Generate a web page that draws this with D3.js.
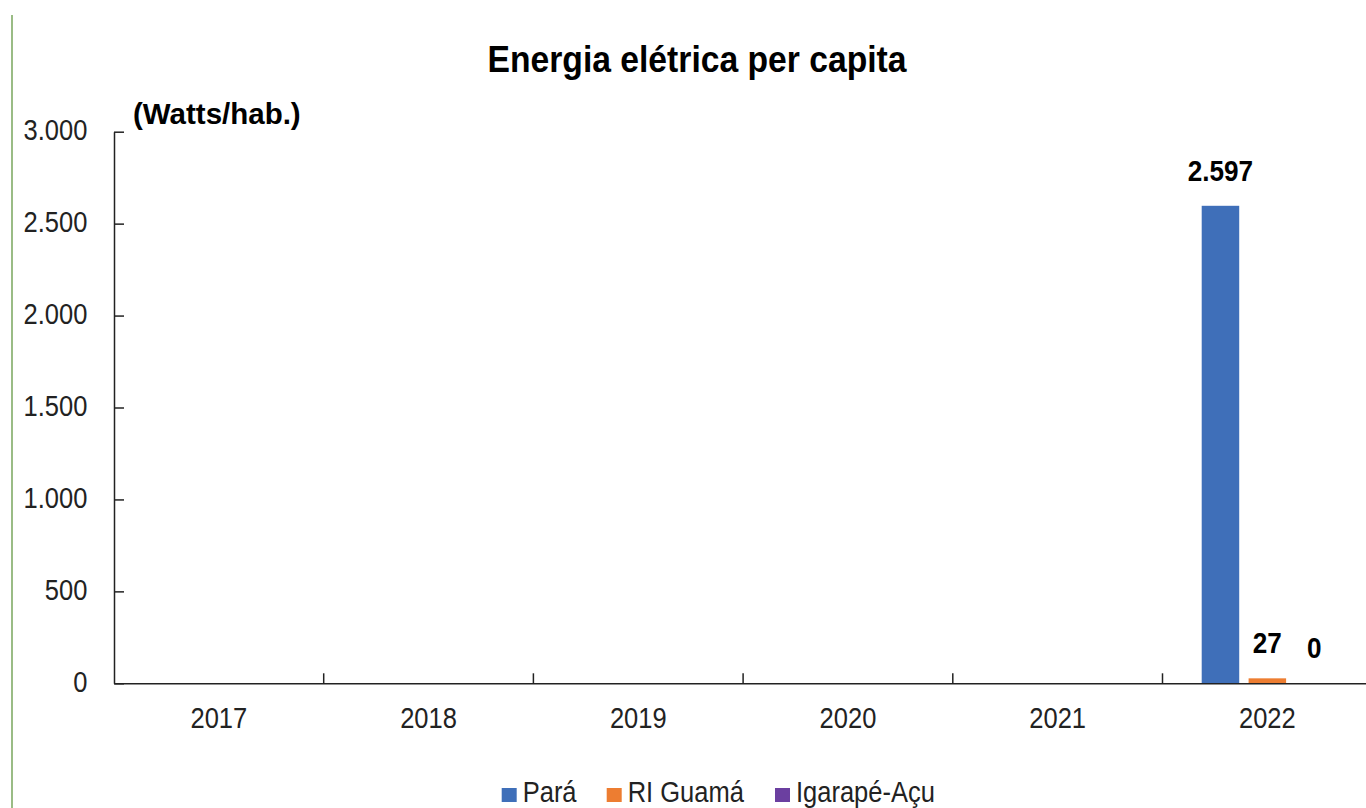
<!DOCTYPE html>
<html>
<head>
<meta charset="utf-8">
<script src="https://cdn.jsdelivr.net/npm/d3@7"></script>
<style>
  html, body { margin: 0; padding: 0; background: #fff; }
  svg { display: block; font-family: "Liberation Sans", Arial, sans-serif; }
</style>
</head>
<body>
<script>
const years = ["2017", "2018", "2019", "2020", "2021", "2022"];
const series = ["Pará", "RI Guamá", "Igarapé-Açu"];
const colors = ["#3f6fb9", "#ed7d31", "#6b3fa0"];
// Watts/hab. per year and series (null = no data)
const para = [null, null, null, null, null, 2597];
const riGuama = [null, null, null, null, null, 27];
const igarapeAcu = [null, null, null, null, null, 0];
const yTicks = [0, 500, 1000, 1500, 2000, 2500, 3000];

const width = 1366, height = 808;
const margin = ({top: 131.7, right: 0, bottom: 124.7, left: 114});
const step = 209.7;
const narrow = 0.85; // the reference uses a condensed face

const locale = d3.formatLocale({decimal: ",", thousands: ".", grouping: [3], currency: ["R$", ""]});
const fmt = locale.format(",d");

const values = [para, riGuama, igarapeAcu];
const data = years.map((yr, i) => ({year: yr, vals: series.map((s, j) => ({key: s, idx: j, value: values[j][i]}))}));

const svg = d3.select("body").append("svg")
    .attr("width", width)
    .attr("height", height);

// green border line at the left
svg.append("line")
    .attr("x1", 12).attr("x2", 12)
    .attr("y1", 15).attr("y2", height)
    .attr("stroke", "#79a65c")
    .attr("stroke-width", 1.5);

const x0 = d3.scaleBand()
    .domain(years)
    .range([margin.left, margin.left + step * years.length]);

const x1 = d3.scaleBand()
    .domain(series)
    .range([39.2, x0.bandwidth() - 39.2])
    .paddingInner(0.2);

const y = d3.scaleLinear()
    .domain([0, 3000])
    .range([height - margin.bottom, margin.top]);

// title
svg.append("text")
    .attr("transform", `translate(697,71.7) scale(0.91,1)`)
    .attr("text-anchor", "middle")
    .style("font-weight", "bold")
    .style("font-size", "37px")
    .attr("fill", "#000")
    .text("Energia elétrica per capita");

// unit label
svg.append("text")
    .attr("x", 133)
    .attr("y", 124)
    .style("font-weight", "bold")
    .style("font-size", "29.5px")
    .attr("fill", "#000")
    .text("(Watts/hab.)");

// bars
const groups = svg.append("g")
  .selectAll("g")
  .data(data)
  .join("g")
    .attr("transform", d => `translate(${x0(d.year)},0)`);

groups.selectAll("rect")
  .data(d => d.vals.filter(v => v.value != null))
  .join("rect")
    .attr("x", d => x1(d.key))
    .attr("width", x1.bandwidth())
    .attr("y", d => y(d.value))
    .attr("height", d => y(0) - y(d.value))
    .attr("fill", d => colors[d.idx]);

groups.selectAll("text")
  .data(d => d.vals.filter(v => v.value != null))
  .join("text")
    .attr("transform", d => `translate(${x1(d.key) + x1.bandwidth() / 2},${y(d.value) - 25}) scale(0.87,1)`)
    .attr("text-anchor", "middle")
    .style("font-weight", "bold")
    .style("font-size", "30px")
    .attr("fill", "#000")
    .text(d => fmt(d.value));

// y axis
const yAxis = svg.append("g")
    .attr("transform", `translate(${margin.left},0)`)
    .call(d3.axisLeft(y).tickValues(yTicks).tickFormat(fmt).tickSizeInner(-10).tickSizeOuter(0).tickPadding(26.7 / narrow));
yAxis.select(".domain").attr("stroke", "#222").attr("stroke-width", 1.5);
yAxis.selectAll(".tick line").attr("stroke", "#222").attr("stroke-width", 1.5);
yAxis.selectAll(".tick text")
    .style("font-size", "30px")
    .attr("fill", "#222")
    .attr("dy", "0.27em")
    .attr("transform", `scale(${narrow},1)`);

// x axis
const xAxis = svg.append("g")
    .attr("transform", `translate(0,${y(0)})`)
    .call(d3.axisBottom(x0).tickSize(0).tickPadding(23.5));
xAxis.select(".domain").attr("stroke", "#222").attr("stroke-width", 1.5);
xAxis.selectAll(".tick text")
    .style("font-size", "30px")
    .attr("fill", "#222")
    .attr("dy", "0.71em")
    .attr("transform", `scale(${narrow},1)`);

// category boundary ticks (pointing up)
svg.append("g")
  .selectAll("line")
  .data(years.slice(1))
  .join("line")
    .attr("x1", d => x0(d)).attr("x2", d => x0(d))
    .attr("y1", y(0)).attr("y2", y(0) - 10)
    .attr("stroke", "#222")
    .attr("stroke-width", 1.5);

// legend
const legendX = [501.7, 606.7, 775];
const legend = svg.append("g")
  .selectAll("g")
  .data(series)
  .join("g")
    .attr("transform", (d, i) => `translate(${legendX[i]},788)`);
legend.append("rect")
    .attr("width", 15).attr("height", 14)
    .attr("fill", (d, i) => colors[i]);
legend.append("text")
    .attr("transform", `translate(21,14) scale(${narrow * 30 / 29},1)`)
    .style("font-size", "29px")
    .attr("fill", "#222")
    .text(d => d);
</script>
</body>
</html>
